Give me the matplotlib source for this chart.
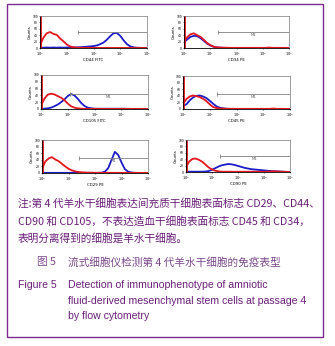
import numpy as np
import matplotlib.pyplot as plt
from matplotlib.patches import Rectangle

# channel positions (log10 of fluorescence), 1/8 decade apart
log_pos = np.arange(0, 4.001, 0.125)

markers = ["CD44 FITC", "CD34 PE", "CD105 FITC", "CD45 PE", "CD29 PE", "CD90 PE"]

# isotype control (red) and antibody (blue) counts
red_counts = [
    [8, 32, 46, 50, 44, 41, 30, 21, 11, 5, 2, 1, 0.5, 0.5, 0.3, 0.3, 0.3, 0.2, 0.2, 0.2, 0.2, 0.2, 0.2, 0.2, 0.2, 0.2, 0.2, 0.1, 0.1, 0.1, 0.1, 0.1, 0],
    [22, 34, 43, 46, 40, 35, 26, 16, 9, 4, 2, 1.5, 1, 0.8, 0.5, 0.5, 0.5, 0.5, 0.5, 0.5, 0.5, 0.5, 0.5, 0.5, 0.5, 0.5, 1.5, 0.5, 0.5, 0.5, 0.5, 0.5, 0],
    [10, 30, 42, 45, 43, 38, 33, 26, 16, 8, 4, 2, 1, 0.5, 0.3, 0.3, 0.3, 0.3, 0.3, 0.3, 0.3, 0.3, 0.3, 0.3, 0.3, 0.3, 0.3, 0.2, 0.2, 0.2, 0.2, 0.1, 0],
    [15, 30, 38, 41, 39, 36, 31, 24, 14, 6, 3, 1.5, 1, 0.5, 0.5, 0.5, 0.5, 0.5, 0.5, 0.5, 0.5, 0.5, 0.5, 0.5, 0.5, 0.5, 0.5, 1.5, 0.5, 0.5, 0.5, 0.3, 0],
    [12, 35, 44, 48, 41, 36, 28, 20, 13, 8, 5, 3, 2, 1.5, 1, 1, 0.5, 0.5, 0.5, 0.5, 0.5, 0.5, 0.5, 0.5, 0.5, 0.5, 0.5, 0.5, 0.5, 0.5, 0.3, 0.3, 0],
    [15, 33, 41, 42, 38, 32, 23, 14, 8, 4, 2, 1, 1, 1, 0.8, 0.8, 0.8, 0.8, 0.8, 0.8, 0.8, 0.8, 0.8, 0.8, 0.8, 1, 1.5, 2, 1.5, 1, 0.5, 0.3, 0],
]
blue_counts = [
    [1, 1, 1.5, 1, 1.5, 1, 1.5, 1, 1.5, 1.5, 2, 2, 2.5, 3, 4, 5, 6, 8, 12, 17, 26, 37, 46, 47, 38, 24, 12, 5, 2, 1, 0.5, 0.3, 0],
    [18, 27, 35, 38, 37, 31, 23, 14, 8, 4, 2, 1, 0.5, 0.3, 0.3, 0.2, 0.2, 0.2, 0.2, 0.2, 0.2, 0.2, 0.2, 0.2, 0.2, 0.2, 0.2, 0.2, 0.2, 0.1, 0.1, 0.1, 0],
    [0.5, 1, 2, 4, 8, 13, 20, 28, 38, 44, 40, 30, 18, 9, 4, 2, 1, 0.8, 0.8, 0.8, 0.8, 0.8, 0.8, 0.8, 0.8, 0.8, 0.5, 0.3, 0.2, 0.2, 0.1, 0, 0],
    [10, 14, 26, 35, 40, 41, 38, 33, 25, 16, 8, 4, 2, 1, 0.5, 0.5, 0.3, 0.3, 0.3, 0.3, 0.3, 0.3, 0.3, 0.3, 0.3, 0.3, 0.3, 0.2, 0.2, 0.2, 0.1, 0.1, 0],
    [0.5, 0.5, 0.5, 0.5, 0.5, 0.5, 0.5, 0.5, 0.5, 0.5, 0.5, 0.5, 0.5, 0.5, 0.5, 0.5, 0.5, 0.5, 1, 4, 15, 40, 64, 55, 32, 12, 4, 1.5, 0.5, 0.3, 0.2, 0.1, 0],
    [1, 1, 1, 1, 1, 1, 1.5, 3, 7, 12, 17, 21, 23, 25, 24, 22, 19, 16, 13, 11, 9, 8, 7, 6, 5, 4, 3, 2.5, 2, 1.5, 1, 0.5, 0],
]
red_spike = [100, 100, 100, 100, 100, 100]
m1_start = [1.42, 1.3, 1.08, 1.27, 1.4, 1.3]   # log10 of gate start
m1_level = [50, 50, 44, 45, 45, 50]
show_m1 = [False, True, True, True, True, True]

note_lines = [
    "注:第 4 代羊水干细胞表达间充质干细胞表面标志 CD29、CD44、",
    "CD90 和 CD105，不表达造血干细胞表面标志 CD45 和 CD34，",
    "表明分离得到的细胞是羊水干细胞。",
]
cn_title = "流式细胞仪检测第 4 代羊水干细胞的免疫表型"
en_title = ["Detection of immunophenotype of amniotic",
            "fluid-derived mesenchymal stem cells at passage 4",
            "by flow cytometry"]

W, H = 335, 346
fig = plt.figure(figsize=(W / 100, H / 100), dpi=100)
plt.rcParams['font.family'] = ['Noto Sans CJK SC', 'DejaVu Sans']

purple = '#6a2078'
fig.patches.append(Rectangle((7 / W, 1 - 337 / H), 316 / W, 333 / H, transform=fig.transFigure,
                             fill=False, edgecolor='#7d2b8f', linewidth=1.0))

boxes = [(40, 16, 147, 48), (184, 16, 289, 48), (41, 75, 148, 109),
         (183, 76, 290, 109), (42, 140, 148, 173), (186, 140, 290, 172)]

for i, (x0, y0, x1, y1) in enumerate(boxes):
    ax = fig.add_axes([x0 / W, 1 - y1 / H, (x1 - x0) / W, (y1 - y0) / H])
    xs = 10 ** log_pos
    ax.plot(xs, blue_counts[i], color='#1c1cc8', lw=1.3)
    ax.plot(xs, red_counts[i], color='#e3161c', lw=1.3)
    ax.vlines(1.06, 0, red_spike[i], color='#e3161c', lw=1.3)
    ax.set_xscale('log')
    ax.set_xlim(1, 1e4)
    ax.set_ylim(0, 100)
    ax.set_xticks([1, 10, 100, 1000, 10000])
    ax.set_xticklabels([r'$10^{%d}$' % k for k in range(5)])
    ax.minorticks_off()
    ax.set_yticks([0, 20, 40, 60, 80, 100])
    ax.tick_params(labelsize=2.5, length=1, width=0.4, pad=0.5)
    ax.set_xlabel(markers[i], fontsize=2.8, labelpad=0.5, family='DejaVu Sans')
    ax.set_ylabel('Counts', fontsize=2.8, labelpad=0.5, family='DejaVu Sans')
    for s in ['left', 'bottom']:
        ax.spines[s].set_linewidth(0.6)
    for s in ['top', 'right']:
        ax.spines[s].set_linewidth(0.5)
        ax.spines[s].set_color('#777777')
    xm = 10 ** m1_start[i]
    ax.plot([xm, 1e4], [m1_level[i]] * 2, color='#808080', lw=0.6)
    ax.vlines([xm, 1e4 * 0.97], m1_level[i] - 6, m1_level[i] + 6, color='#808080', lw=0.6)
    if show_m1[i]:
        ax.text(10 ** ((m1_start[i] + 4) / 2), m1_level[i] - 4, 'M1', fontsize=2.8,
                color='#666666', ha='center', va='top', family='DejaVu Sans')

for line, y in zip(note_lines, [203, 221, 238]):
    fig.text(18 / W, 1 - y / H, line, fontsize=7.7, color=purple, va='center', ha='left')

fig.text(37 / W, 1 - 262 / H, "图 5", fontsize=7.7, color='#7a4a8a', va='center', ha='left')
fig.text(68 / W, 1 - 262 / H, cn_title, fontsize=7.7, color='#7a4a8a', va='center', ha='left')
fig.text(18 / W, 1 - 285 / H, "Figure 5", fontsize=7.6, color=purple, va='center', ha='left',
         family='Liberation Sans')
for line, y in zip(en_title, [285, 301, 316]):
    fig.text(68 / W, 1 - y / H, line, fontsize=7.6, color=purple, va='center', ha='left',
             family='Liberation Sans')

fig.savefig('out.png', dpi=100)
